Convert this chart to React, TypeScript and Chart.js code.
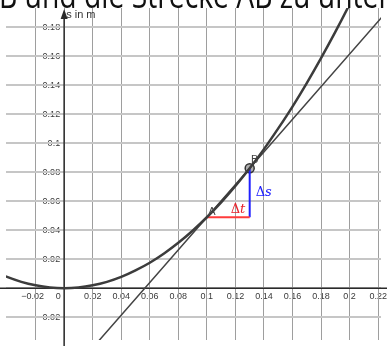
import { useEffect, useRef } from "react";
import { Chart, registerables } from "chart.js";
Chart.register(...registerables);

// Parabola s(t) (t in s, s in m)
const T_CURVE = [-0.045, -0.04, -0.03, -0.02, -0.01, 0, 0.01, 0.02, 0.03, 0.04, 0.05, 0.06, 0.07, 0.08, 0.09, 0.1, 0.11, 0.12, 0.13, 0.14, 0.15, 0.16, 0.17, 0.18, 0.19, 0.2, 0.21];
const S_CURVE = [0.0099, 0.0078, 0.0044, 0.002, 0.0005, 0, 0.0005, 0.002, 0.0044, 0.0078, 0.0123, 0.0176, 0.024, 0.0314, 0.0397, 0.049, 0.0593, 0.0706, 0.0828, 0.096, 0.1103, 0.1254, 0.1416, 0.1588, 0.1769, 0.196, 0.2161];

// Secant line through A and B
const T_SECANT = [0.02, 0.1, 0.13, 0.23];
const S_SECANT = [-0.0411, 0.049, 0.0828, 0.1955];

// Points A and B
const POINT_A = { t: 0.1, s: 0.049 };
const POINT_B = { t: 0.13, s: 0.0828 };

// Axis ranges and ticks
const X_MIN = -0.04073;
const X_MAX = 0.222;
const Y_MIN = -0.03573;
const Y_MAX = 0.19342;
const X_TICKS = [-0.02, 0, 0.02, 0.04, 0.06, 0.08, 0.1, 0.12, 0.14, 0.16, 0.18, 0.2, 0.22];
const X_TICK_LABELS = ["\u22120.02", "0", "0.02", "0.04", "0.06", "0.08", "0.1", "0.12", "0.14", "0.16", "0.18", "0.2", "0.22"];
const Y_TICKS = [-0.02, 0, 0.02, 0.04, 0.06, 0.08, 0.1, 0.12, 0.14, 0.16, 0.18];
const Y_TICK_LABELS = ["\u22120.02", "0", "0.02", "0.04", "0.06", "0.08", "0.1", "0.12", "0.14", "0.16", "0.18"];

const TITLE = "B und die Strecke AB zu unter";
const Y_AXIS_LABEL = "s in m";

export default function App() {
  const ref = useRef<HTMLCanvasElement | null>(null);

  useEffect(() => {
    const canvas = ref.current;
    if (!canvas) return;

    const labelsBehind = {
      id: "labelsBehind",
      beforeDraw(chart: any) {
        const ctx = chart.ctx;
        const xs = chart.scales.x;
        const ys = chart.scales.y;
        const ox = xs.getPixelForValue(0);
        const oy = ys.getPixelForValue(0);
        ctx.save();
        ctx.fillStyle = "#ffffff";
        ctx.fillRect(0, 0, chart.width, chart.height);
        ctx.font = "9px 'Liberation Sans', Arial, sans-serif";
        ctx.fillStyle = "#3a3a3a";
        ctx.textBaseline = "middle";
        ctx.textAlign = "center";
        X_TICKS.forEach((v, i) => {
          const px = xs.getPixelForValue(v);
          const shift = v === 0 ? -6 : v < 0 ? -3 : 0;
          ctx.fillText(X_TICK_LABELS[i], px + shift, oy + 8);
        });
        ctx.textAlign = "right";
        Y_TICKS.forEach((v, i) => {
          if (v === 0) return;
          const py = ys.getPixelForValue(v);
          ctx.fillText(Y_TICK_LABELS[i], ox - 4, py);
        });
        ctx.restore();
      },
    };

    const overlay = {
      id: "overlay",
      beforeDatasetsDraw(chart: any) {
        const ctx = chart.ctx;
        const xs = chart.scales.x;
        const ys = chart.scales.y;
        const ox = xs.getPixelForValue(0);
        const oy = ys.getPixelForValue(0);
        const top = chart.chartArea.top;
        ctx.save();
        ctx.strokeStyle = "#2a2a2a";
        ctx.lineWidth = 1.5;
        ctx.beginPath();
        ctx.moveTo(0, oy);
        ctx.lineTo(chart.width, oy);
        ctx.moveTo(ox, top + 5);
        ctx.lineTo(ox, chart.height);
        ctx.stroke();
        ctx.fillStyle = "#2a2a2a";
        ctx.beginPath();
        ctx.moveTo(ox, top + 1);
        ctx.lineTo(ox - 3.5, top + 11);
        ctx.lineTo(ox + 3.5, top + 11);
        ctx.closePath();
        ctx.fill();
        ctx.font = "11px 'Liberation Sans', Arial, sans-serif";
        ctx.textAlign = "left";
        ctx.textBaseline = "alphabetic";
        ctx.fillStyle = "#333333";
        ctx.fillText(Y_AXIS_LABEL, ox + 2, top + 10);
        ctx.restore();
      },
      afterDatasetsDraw(chart: any) {
        const ctx = chart.ctx;
        const xs = chart.scales.x;
        const ys = chart.scales.y;
        const ax = xs.getPixelForValue(POINT_A.t);
        const ay = ys.getPixelForValue(POINT_A.s);
        const bx = xs.getPixelForValue(POINT_B.t);
        const by = ys.getPixelForValue(POINT_B.s);
        ctx.save();
        ctx.textBaseline = "middle";
        ctx.textAlign = "center";
        ctx.font = "11px 'Liberation Sans', Arial, sans-serif";
        ctx.fillStyle = "#444444";
        ctx.fillText("A", ax + 5, ay - 5);
        ctx.fillText("B", bx + 5, by - 8);

        const drawDelta = (letter: string, x: number, y: number, color: string) => {
          ctx.fillStyle = color;
          ctx.textAlign = "left";
          ctx.font = "13px 'DejaVu Serif', serif";
          ctx.fillText("\u0394", x, y);
          const w = ctx.measureText("\u0394").width;
          ctx.font = "italic 13px 'DejaVu Serif', serif";
          ctx.fillText(letter, x + w, y);
        };
        drawDelta("t", bx - 19, ay - 8, "#e8202a");
        drawDelta("s", bx + 6, (ay + by) / 2, "#1a1aff");

        // title line from the page above, only its lower part shows
        ctx.font = "36px 'Open Sans', sans-serif";
        const w = ctx.measureText(TITLE).width;
        ctx.fillStyle = "#111111";
        ctx.textBaseline = "alphabetic";
        ctx.textAlign = "left";
        ctx.translate(-1, 7.5);
        ctx.scale(391 / w, 1);
        ctx.fillText(TITLE, 0, 0);
        ctx.restore();
      },
    };

    const chart = new Chart(canvas, {
      type: "scatter",
      data: {
        datasets: [
          {
            label: "s(t)",
            data: T_CURVE.map((t, i) => ({ x: t, y: S_CURVE[i] })),
            showLine: true,
            borderColor: "#3c3c3c",
            borderWidth: 2.5,
            pointRadius: 0,
            cubicInterpolationMode: "monotone",
          },
          {
            label: "Sekante",
            data: T_SECANT.map((t, i) => ({ x: t, y: S_SECANT[i] })),
            showLine: true,
            borderColor: "#444444",
            borderWidth: 1.5,
            pointRadius: 0,
          },
          {
            label: "dt",
            data: [
              { x: POINT_A.t, y: POINT_A.s },
              { x: POINT_B.t, y: POINT_A.s },
            ],
            showLine: true,
            borderColor: "#ff3b3b",
            borderWidth: 2,
            pointRadius: 0,
          },
          {
            label: "ds",
            data: [
              { x: POINT_B.t, y: POINT_A.s },
              { x: POINT_B.t, y: POINT_B.s },
            ],
            showLine: true,
            borderColor: "#2020ff",
            borderWidth: 2,
            pointRadius: 0,
          },
          {
            label: "B",
            data: [{ x: POINT_B.t, y: POINT_B.s }],
            pointRadius: 4.5,
            pointBackgroundColor: "rgba(110,110,110,0.55)",
            pointBorderColor: "#333333",
            pointBorderWidth: 1.5,
          },
        ],
      },
      options: {
        animation: false,
        responsive: false,
        devicePixelRatio: 1,
        layout: { padding: { top: 8, left: 0, right: 0, bottom: 0 } },
        plugins: {
          legend: { display: false },
          tooltip: { enabled: false },
        },
        scales: {
          x: {
            type: "linear",
            min: X_MIN,
            max: X_MAX,
            afterBuildTicks: (scale: any) => {
              scale.ticks = X_TICKS.map((v) => ({ value: v }));
            },
            ticks: { display: false },
            border: { display: false },
            grid: { drawTicks: false, color: "#9e9e9e", lineWidth: 1 },
          },
          y: {
            type: "linear",
            min: Y_MIN,
            max: Y_MAX,
            afterBuildTicks: (scale: any) => {
              scale.ticks = Y_TICKS.map((v) => ({ value: v }));
            },
            ticks: { display: false },
            border: { display: false },
            grid: { drawTicks: false, color: "#c6c6c6", lineWidth: 2 },
          },
        },
      },
      plugins: [labelsBehind, overlay],
    });

    return () => chart.destroy();
  }, []);

  return (
    <div style={{ position: "fixed", left: 0, top: 0, width: 387, height: 346, background: "#fff" }}>
      <canvas ref={ref} width={387} height={346} style={{ display: "block", width: 387, height: 346 }} />
    </div>
  );
}
